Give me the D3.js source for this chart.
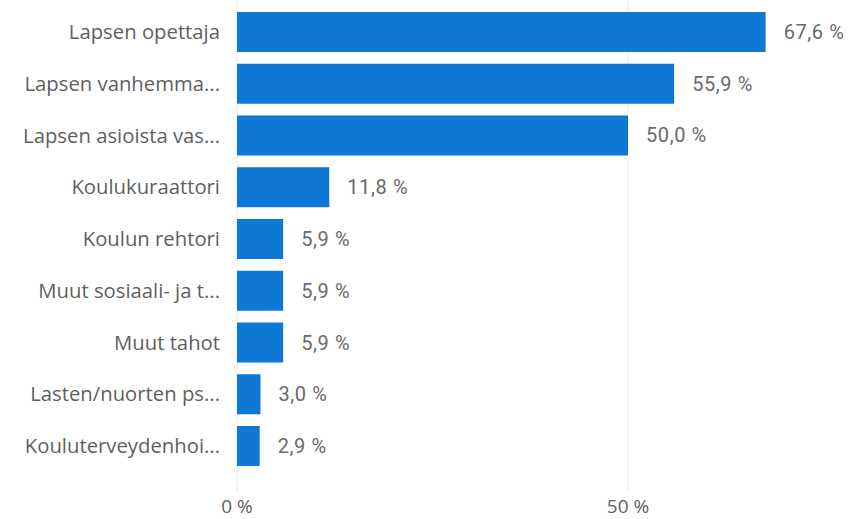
<!DOCTYPE html>
<html>
<head>
<meta charset="utf-8">
<script src="https://cdn.jsdelivr.net/npm/d3@7"></script>
<style>
  body { margin: 0; background: #fff; }
  svg { display: block; }
</style>
</head>
<body>
<div id="chart"></div>
<script>
// data
const categories = [
  "Lapsen opettaja",
  "Lapsen vanhemma...",
  "Lapsen asioista vas...",
  "Koulukuraattori",
  "Koulun rehtori",
  "Muut sosiaali- ja t...",
  "Muut tahot",
  "Lasten/nuorten ps...",
  "Kouluterveydenhoi..."
];
const values = [67.6, 55.9, 50.0, 11.8, 5.9, 5.9, 5.9, 3.0, 2.9];
const xTicks = [0, 50];

const width = 863, height = 519;
const bar_color = "#0f78d4";
const text_color = "#5f5f5f";
const value_color = "#6a6a6a";

let data = categories.map((c, i) => ({cat: c, val: values[i]}));

let svg = d3.select("#chart")
            .append("svg")
            .attr("width", width)
            .attr("height", height);

let x = d3.scaleLinear()
          .domain([0, 50])
          .range([237, 628]);

let y = d3.scaleBand()
          .domain(categories)
          .range([6.1, 471.9])
          .paddingInner(0.227)
          .paddingOuter(0.1135);

// gridlines
svg.append("g")
   .selectAll("line")
   .data(xTicks)
   .enter().append("line")
   .attr("x1", d => x(d))
   .attr("x2", d => x(d))
   .attr("y1", 0)
   .attr("y2", 492)
   .style("stroke", "#e8e8e8")
   .style("stroke-width", 1);

// tick labels
svg.append("g")
   .selectAll("text")
   .data(xTicks)
   .enter().append("text")
   .attr("x", d => x(d))
   .attr("y", 513)
   .attr("text-anchor", "middle")
   .attr("font-family", "'Open Sans', sans-serif")
   .attr("font-size", "19px")
   .attr("fill", text_color)
   .text(d => d + " %");

// bars
svg.selectAll("rect")
   .data(data)
   .enter().append("rect")
   .attr("x", x(0))
   .attr("y", d => y(d.cat))
   .attr("width", d => x(d.val) - x(0))
   .attr("height", y.bandwidth())
   .attr("fill", bar_color);

// category labels
svg.append("g")
   .selectAll("text")
   .data(data)
   .enter().append("text")
   .attr("x", 220)
   .attr("y", d => y(d.cat) + y.bandwidth() / 2)
   .attr("dy", "0.35em")
   .attr("text-anchor", "end")
   .attr("font-family", "'Open Sans', sans-serif")
   .attr("font-size", "20.3px")
   .attr("fill", text_color)
   .text(d => d.cat);

// value labels
let fmt = v => v.toFixed(1).replace(".", ",") + " %";
svg.append("g")
   .selectAll("text")
   .data(data)
   .enter().append("text")
   .attr("x", d => x(d.val) + 18)
   .attr("y", d => y(d.cat) + y.bandwidth() / 2)
   .attr("dy", "0.35em")
   .attr("font-family", "'Roboto', sans-serif")
   .attr("font-size", "20px")
   .attr("letter-spacing", "0.6px")
   .attr("fill", value_color)
   .text(d => fmt(d.val));
</script>
</body>
</html>
